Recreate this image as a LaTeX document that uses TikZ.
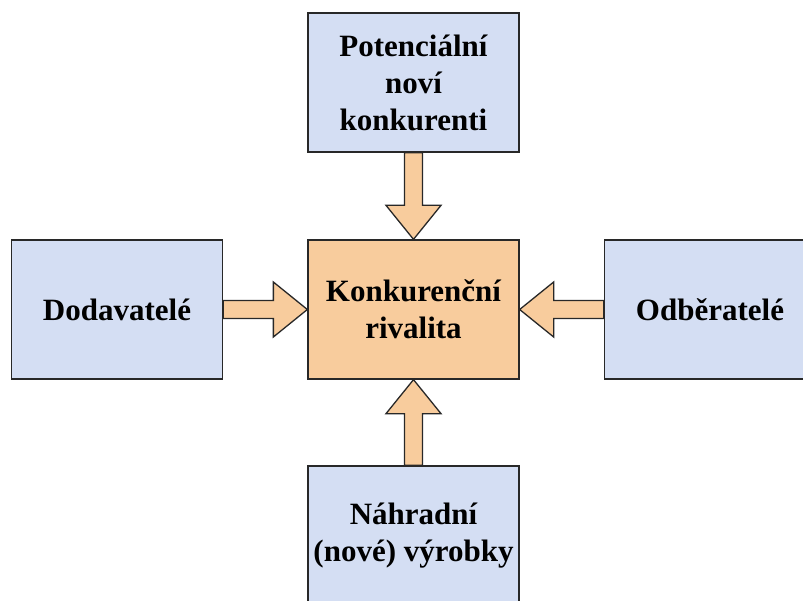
\documentclass[tikz,border=0pt]{standalone}
\usepackage{fontspec}
\setmainfont{LiberationSerif}[Extension=.ttf, UprightFont=*-Regular, BoldFont=*-Bold, ItalicFont=*-Italic, BoldItalicFont=*-BoldItalic]
\usetikzlibrary{calc}
\definecolor{boxblue}{RGB}{212,222,243}
\definecolor{boxorange}{RGB}{248,204,157}
\definecolor{edge}{RGB}{40,40,40}
\begin{document}
\begin{tikzpicture}[x=1pt,y=-1pt,
  force/.style={draw=edge, line width=1.3pt, fill=boxblue, minimum width=211pt,
    minimum height=139pt, align=center, inner sep=0pt,
    font=\fontsize{31}{37}\selectfont\bfseries},
  core/.style={force, fill=boxorange},
  blockarrow/.style={draw=edge, line width=1.3pt, fill=boxorange, line join=miter}]
\useasboundingbox (0,0) rectangle (803,601);
\clip (0,0) rectangle (803,601);

% the five forces
\node[core]  (center) at (413.5,309.5) {Konkurenční\\rivalita};
\node[force] (top)    at (413.5,82.5)  {Potenciální\\noví\\konkurenti};
\node[force] (left)   at (117,309.5)   {Dodavatelé};
\node[force] (right)  at (710,309.5)   {Odběratelé};
\node[force] (bottom) at (413.5,535.5) {Náhradní\\(nové) výrobky};

% block arrows pointing to the centre
\draw[blockarrow] ($(top.south)+(-9,0)$) -- ($(center.north)+(-9,-34)$)
  -- ($(center.north)+(-27.5,-34)$) -- (center.north)
  -- ($(center.north)+(27.5,-34)$) -- ($(center.north)+(9,-34)$)
  -- ($(top.south)+(9,0)$) -- cycle;
\draw[blockarrow] ($(bottom.north)+(-9,0)$) -- ($(center.south)+(-9,34)$)
  -- ($(center.south)+(-27.5,34)$) -- (center.south)
  -- ($(center.south)+(27.5,34)$) -- ($(center.south)+(9,34)$)
  -- ($(bottom.north)+(9,0)$) -- cycle;
\draw[blockarrow] ($(left.east)+(0,-9)$) -- ($(center.west)+(-34,-9)$)
  -- ($(center.west)+(-34,-27.5)$) -- (center.west)
  -- ($(center.west)+(-34,27.5)$) -- ($(center.west)+(-34,9)$)
  -- ($(left.east)+(0,9)$) -- cycle;
\draw[blockarrow] ($(right.west)+(0,-9)$) -- ($(center.east)+(34,-9)$)
  -- ($(center.east)+(34,-27.5)$) -- (center.east)
  -- ($(center.east)+(34,27.5)$) -- ($(center.east)+(34,9)$)
  -- ($(right.west)+(0,9)$) -- cycle;
\end{tikzpicture}
\end{document}
